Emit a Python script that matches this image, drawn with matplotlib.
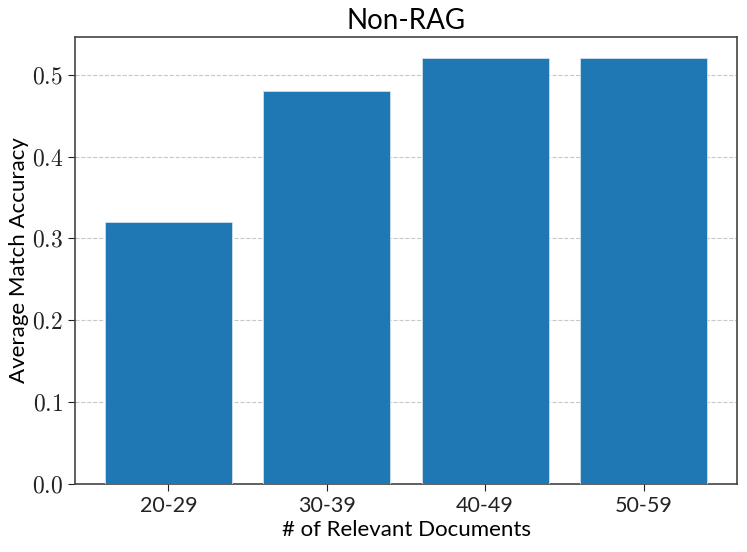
import matplotlib
matplotlib.use("Agg")
import matplotlib.pyplot as plt
from matplotlib.ticker import FuncFormatter

categories = ["20-29", "30-39", "40-49", "50-59"]
accuracy = [0.32, 0.48, 0.52, 0.52]
title = "Non-RAG"
xlabel = "# of Relevant Documents"
ylabel = "Average Match Accuracy"

plt.rcParams['mathtext.fontset'] = 'cm'
plt.rcParams['font.family'] = ['Lato', 'DejaVu Sans']

fig = plt.figure(figsize=(7.47, 5.52), dpi=100)
ax = fig.add_axes([75/747, 1-484/552, (737-75)/747, (484-37)/552])

ax.bar(range(len(categories)), accuracy, width=0.8, color='#1f77b4',
       edgecolor='#cfe0ee', linewidth=0.6, zorder=3)
ax.set_xticks(range(len(categories)))
ax.set_xticklabels(categories, fontsize=15.5)
ax.yaxis.set_major_formatter(FuncFormatter(lambda v, p: f"${v:.1f}$"))
ax.tick_params(axis='y', labelsize=17)
ax.set_yticks([0.0, 0.1, 0.2, 0.3, 0.4, 0.5])
ax.grid(axis='y', linestyle='--', color='#c8c8c8', linewidth=0.8, zorder=0)
ax.set_axisbelow(True)
for s in ax.spines.values():
    s.set_color('#444444')
    s.set_linewidth(1.2)
ax.tick_params(colors='#222222', length=5)
ax.set_xlabel(xlabel, fontsize=16, labelpad=3)
ax.set_ylabel(ylabel, fontsize=16, labelpad=2)
ax.set_title(title, fontsize=20, pad=6)

fig.savefig("out.png", dpi=100)
